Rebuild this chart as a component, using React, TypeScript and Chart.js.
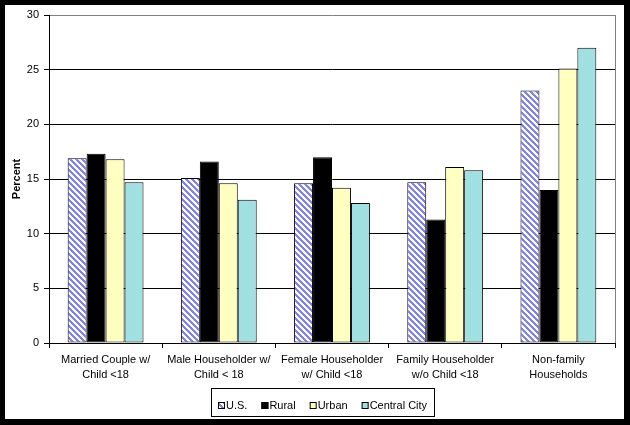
import React, { useEffect, useRef } from "react";
import { Chart, registerables } from "chart.js";

Chart.register(...registerables);

const categories: string[][] = [
  ["Married Couple w/", "Child <18"],
  ["Male Householder w/", "Child < 18"],
  ["Female Householder", "w/ Child <18"],
  ["Family Householder", "w/o Child <18"],
  ["Non-family", "Households"],
];
const seriesNames = ["U.S.", "Rural", "Urban", "Central City"];
const usValues = [16.9, 15.1, 14.6, 14.7, 23.1];
const ruralValues = [17.3, 16.6, 17.0, 11.3, 14.0];
const urbanValues = [16.8, 14.6, 14.2, 16.1, 25.1];
const centralCityValues = [14.7, 13.1, 12.8, 15.8, 27.0];
const yTicks = { min: 0, max: 30, step: 5 };

const FONT = "'Liberation Sans', Arial, sans-serif";

function makeStripePattern(): CanvasPattern | string {
  const c = document.createElement("canvas");
  c.width = 6;
  c.height = 6;
  const ctx = c.getContext("2d");
  if (!ctx) return "#8080FF";
  const img = ctx.createImageData(6, 6);
  for (let y = 0; y < 6; y++) {
    for (let x = 0; x < 6; x++) {
      const i = (y * 6 + x) * 4;
      const blue = (((x - y) % 6) + 6) % 6 < 3;
      img.data[i] = blue ? 128 : 255;
      img.data[i + 1] = blue ? 128 : 255;
      img.data[i + 2] = 255;
      img.data[i + 3] = 255;
    }
  }
  ctx.putImageData(img, 0, 0);
  const p = ctx.createPattern(c, "repeat");
  return p || "#8080FF";
}

export default function App() {
  const ref = useRef<HTMLCanvasElement>(null);

  useEffect(() => {
    document.body.style.margin = "0";
    const canvas = ref.current;
    if (!canvas) return;
    const pattern = makeStripePattern();
    const fills: (CanvasPattern | string)[] = [pattern, "#000000", "#FFFFC0", "#A0E0E0"];
    const values = [usValues, ruralValues, urbanValues, centralCityValues];

    const framePlugin = {
      id: "frame",
      beforeDraw(chart: any) {
        const { ctx, width, height } = chart;
        ctx.save();
        ctx.fillStyle = "#ffffff";
        ctx.fillRect(0, 0, width, height);
        ctx.restore();
      },
      afterDraw(chart: any) {
        const { ctx, width, height, chartArea } = chart;
        ctx.save();
        // plot-area right border (grey)
        ctx.strokeStyle = "#808080";
        ctx.lineWidth = 1;
        ctx.beginPath();
        ctx.moveTo(chartArea.right + 0.5, chartArea.top);
        ctx.lineTo(chartArea.right + 0.5, chartArea.bottom);
        ctx.stroke();
        // outer black frame
        ctx.fillStyle = "#000000";
        ctx.fillRect(0, 0, width, 5);
        ctx.fillRect(0, 0, 5, height);
        ctx.fillRect(width - 6, 0, 6, height);
        ctx.fillRect(0, height - 6, width, 6);
        // custom legend
        ctx.font = `11px ${FONT}`;
        ctx.textBaseline = "middle";
        ctx.textAlign = "left";
        const sw = 7;
        const textGap = 1;
        const itemGap = 14;
        const widths = seriesNames.map((n) => sw + textGap + ctx.measureText(n).width);
        const total = widths.reduce((a, b) => a + b, 0) + itemGap * (seriesNames.length - 1);
        const boxPadX = 7;
        const cx = 323;
        const cy = 405.5;
        let x = Math.round(cx - total / 2);
        const bx = x - boxPadX;
        const bw = total + boxPadX * 2;
        ctx.strokeStyle = "#000";
        ctx.lineWidth = 1;
        ctx.strokeRect(Math.round(bx) + 0.5, 388.5, Math.round(bw), 28);
        seriesNames.forEach((n, i) => {
          const sy = Math.round(cy - sw / 2);
          ctx.fillStyle = fills[i] as any;
          ctx.fillRect(x, sy, sw, sw);
          ctx.strokeStyle = "#000";
          ctx.strokeRect(x + 0.5, sy + 0.5, sw - 1, sw - 1);
          ctx.fillStyle = "#000";
          ctx.fillText(n, x + sw + textGap, cy);
          x += widths[i] + itemGap;
        });
        ctx.restore();
      },
    };

    const chart = new Chart(canvas, {
      type: "bar",
      data: {
        labels: categories,
        datasets: seriesNames.map((name, i) => ({
          label: name,
          data: values[i],
          backgroundColor: fills[i] as any,
          borderColor: "#000000",
          borderWidth: 1,
          borderSkipped: false,
          categoryPercentage: 0.67,
          barPercentage: 1.0,
        })),
      },
      options: {
        responsive: false,
        animation: false,
        devicePixelRatio: 1,
        layout: { padding: { left: 0, top: 15, right: 15, bottom: 0 } },
        plugins: {
          legend: { display: false },
          tooltip: { enabled: false },
        },
        scales: {
          x: {
            grid: {
              display: true,
              offset: true,
              drawOnChartArea: false,
              drawTicks: true,
              tickLength: 5,
              tickColor: "#000000",
              color: "#000000",
            },
            border: { display: true, color: "#000000", width: 1 },
            ticks: {
              color: "#000000",
              font: { family: FONT, size: 11, lineHeight: 1.4 },
              padding: 4,
              maxRotation: 0,
              minRotation: 0,
              autoSkip: false,
            },
            afterFit(scale: any) {
              scale.height = 82;
            },
          },
          y: {
            min: yTicks.min,
            max: yTicks.max,
            ticks: {
              stepSize: yTicks.step,
              color: "#000000",
              font: { family: FONT, size: 11 },
              padding: 5,
            },
            grid: {
              color: (ctx: any) => (ctx.tick && ctx.tick.value === yTicks.max ? "#808080" : "#000000"),
              tickColor: "#000000",
              tickLength: 5,
              lineWidth: 1,
            },
            border: { display: true, color: "#000000", width: 1 },
            title: {
              display: true,
              text: "Percent",
              color: "#000000",
              font: { family: FONT, size: 11, weight: "bold" },
              padding: { top: 10, bottom: 0 },
            },
            afterFit(scale: any) {
              scale.width = 49;
            },
          },
        },
      },
      plugins: [framePlugin],
    });
    return () => chart.destroy();
  }, []);

  return <canvas ref={ref} width={630} height={425} style={{ display: "block" }} />;
}
